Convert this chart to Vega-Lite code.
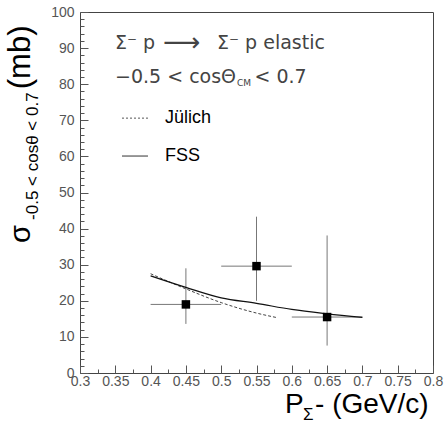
{
  "$schema": "https://vega.github.io/schema/vega-lite/v6.json",
  "width": 353,
  "height": 361,
  "autosize": {"type": "none"},
  "padding": {"left": 80, "top": 12, "right": 11, "bottom": 51},
  "background": "white",
  "config": {
    "view": {"stroke": "#444", "strokeWidth": 1},
    "axis": {"grid": false, "domain": false, "labelFont": "Liberation Sans", "labelFontSize": 14, "labelColor": "#555", "tickColor": "#555", "title": null, "labelOverlap": false, "labelFlush": false},
    "text": {"font": "Liberation Sans"}
  },
  "datasets": {
    "one": [{}],
    "pts": [
      {"p": 0.45, "plo": 0.4, "phi": 0.5, "s": 19.0, "slo": 13.6, "shi": 29.0},
      {"p": 0.55, "plo": 0.5, "phi": 0.6, "s": 29.6, "slo": 20.0, "shi": 43.3},
      {"p": 0.65, "plo": 0.6, "phi": 0.7, "s": 15.5, "slo": 7.6, "shi": 38.1}
    ],
    "fss": [
      {"p": 0.4, "s": 26.9}, {"p": 0.45, "s": 23.7}, {"p": 0.5, "s": 20.8}, {"p": 0.55, "s": 19.3},
      {"p": 0.6, "s": 17.6}, {"p": 0.65, "s": 16.4}, {"p": 0.7, "s": 15.4}
    ],
    "julich": [
      {"p": 0.4, "s": 27.5}, {"p": 0.45, "s": 23.3}, {"p": 0.5, "s": 19.5}, {"p": 0.55, "s": 16.6}, {"p": 0.58, "s": 15.3}
    ]
  },
  "layer": [
    {
      "data": {"name": "pts"},
      "mark": {"type": "rule", "color": "#777", "strokeWidth": 1},
      "encoding": {
        "x": {"field": "plo", "type": "quantitative", "scale": {"domain": [0.3, 0.8], "nice": false, "zero": false},
          "axis": {"orient": "bottom", "values": [0.3, 0.35, 0.4, 0.45, 0.5, 0.55, 0.6, 0.65, 0.7, 0.75, 0.8], "format": "~g", "tickSize": -8, "labelPadding": 9}},
        "x2": {"field": "phi"},
        "y": {"field": "s", "type": "quantitative", "scale": {"domain": [0, 100], "nice": false},
          "axis": {"orient": "left", "values": [0, 10, 20, 30, 40, 50, 60, 70, 80, 90, 100], "tickSize": -8, "labelPadding": 14}}
      }
    },
    {
      "data": {"name": "pts"},
      "mark": {"type": "rule", "color": "#777", "strokeWidth": 1},
      "encoding": {
        "x": {"field": "p", "type": "quantitative", "scale": {"domain": [0.3, 0.8], "nice": false, "zero": false},
          "axis": {"orient": "bottom", "values": [0.325, 0.375, 0.425, 0.475, 0.525, 0.575, 0.625, 0.675, 0.725, 0.775], "tickSize": -4, "labels": false}},
        "y": {"field": "slo", "type": "quantitative", "scale": {"domain": [0, 100], "nice": false},
          "axis": {"orient": "left", "values": [2, 4, 6, 8, 12, 14, 16, 18, 22, 24, 26, 28, 32, 34, 36, 38, 42, 44, 46, 48, 52, 54, 56, 58, 62, 64, 66, 68, 72, 74, 76, 78, 82, 84, 86, 88, 92, 94, 96, 98], "tickSize": -4, "labels": false}},
        "y2": {"field": "shi"}
      }
    },
    {
      "data": {"name": "julich"},
      "mark": {"type": "line", "color": "#444", "strokeWidth": 1, "strokeDash": [3, 2], "interpolate": "monotone"},
      "encoding": {
        "x": {"field": "p", "type": "quantitative", "scale": {"domain": [0.3, 0.8], "nice": false, "zero": false}, "axis": null},
        "y": {"field": "s", "type": "quantitative", "scale": {"domain": [0, 100], "nice": false}, "axis": null}
      }
    },
    {
      "data": {"name": "fss"},
      "mark": {"type": "line", "color": "#111", "strokeWidth": 1.2, "interpolate": "monotone"},
      "encoding": {
        "x": {"field": "p", "type": "quantitative", "scale": {"domain": [0.3, 0.8], "nice": false, "zero": false}, "axis": null},
        "y": {"field": "s", "type": "quantitative", "scale": {"domain": [0, 100], "nice": false}, "axis": null}
      }
    },
    {
      "data": {"name": "pts"},
      "mark": {"type": "point", "shape": "square", "filled": true, "color": "#000", "size": 72, "opacity": 1},
      "encoding": {
        "x": {"field": "p", "type": "quantitative", "scale": {"domain": [0.3, 0.8], "nice": false, "zero": false}, "axis": null},
        "y": {"field": "s", "type": "quantitative", "scale": {"domain": [0, 100], "nice": false}, "axis": null}
      }
    },
    {
      "data": {"name": "one"},
      "mark": {"type": "rule", "color": "#555", "strokeWidth": 1, "strokeDash": [2, 2]},
      "encoding": {
        "x": {"datum": 0.3595, "type": "quantitative", "axis": null},
        "x2": {"datum": 0.3963},
        "y": {"datum": 70.6, "type": "quantitative", "axis": null}
      }
    },
    {
      "data": {"name": "one"},
      "mark": {"type": "rule", "color": "#333", "strokeWidth": 1},
      "encoding": {
        "x": {"datum": 0.3595, "type": "quantitative", "axis": null},
        "x2": {"datum": 0.3963},
        "y": {"datum": 60.1, "type": "quantitative", "axis": null}
      }
    },
    {
      "data": {"name": "one"},
      "mark": {"type": "text", "text": "Jülich", "fontSize": 18, "color": "#000", "align": "left", "baseline": "middle"},
      "encoding": {"x": {"datum": 0.4204, "type": "quantitative", "axis": null}, "y": {"datum": 70.6, "type": "quantitative", "axis": null}}
    },
    {
      "data": {"name": "one"},
      "mark": {"type": "text", "text": "FSS", "fontSize": 18, "color": "#000", "align": "left", "baseline": "middle"},
      "encoding": {"x": {"datum": 0.4204, "type": "quantitative", "axis": null}, "y": {"datum": 60.1, "type": "quantitative", "axis": null}}
    },
    {
      "data": {"name": "one"},
      "mark": {"type": "text", "text": "Σ⁻ p", "font": "DejaVu Sans", "fontSize": 19, "color": "#444", "align": "left", "baseline": "alphabetic"},
      "encoding": {"x": {"datum": 0.3496, "type": "quantitative", "axis": null}, "y": {"datum": 89.75, "type": "quantitative", "axis": null}}
    },
    {
      "data": {"name": "one"},
      "mark": {"type": "text", "text": "⟶", "font": "DejaVu Sans", "fontSize": 26, "color": "#444", "align": "left", "baseline": "alphabetic"},
      "encoding": {"x": {"datum": 0.4176, "type": "quantitative", "axis": null}, "y": {"datum": 89.1, "type": "quantitative", "axis": null}}
    },
    {
      "data": {"name": "one"},
      "mark": {"type": "text", "text": "Σ⁻ p elastic", "font": "DejaVu Sans", "fontSize": 19, "color": "#444", "align": "left", "baseline": "alphabetic"},
      "encoding": {"x": {"datum": 0.4941, "type": "quantitative", "axis": null}, "y": {"datum": 89.75, "type": "quantitative", "axis": null}}
    },
    {
      "data": {"name": "one"},
      "mark": {"type": "text", "text": "−0.5 < cosΘ", "font": "DejaVu Sans", "fontSize": 19, "color": "#444", "align": "left", "baseline": "alphabetic"},
      "encoding": {"x": {"datum": 0.3496, "type": "quantitative", "axis": null}, "y": {"datum": 80.3, "type": "quantitative", "axis": null}}
    },
    {
      "data": {"name": "one"},
      "mark": {"type": "text", "text": "CM", "font": "DejaVu Sans", "fontSize": 9, "color": "#444", "align": "left", "baseline": "alphabetic"},
      "encoding": {"x": {"datum": 0.5224, "type": "quantitative", "axis": null}, "y": {"datum": 79.5, "type": "quantitative", "axis": null}}
    },
    {
      "data": {"name": "one"},
      "mark": {"type": "text", "text": "< 0.7", "font": "DejaVu Sans", "fontSize": 19, "color": "#444", "align": "left", "baseline": "alphabetic"},
      "encoding": {"x": {"datum": 0.5472, "type": "quantitative", "axis": null}, "y": {"datum": 80.3, "type": "quantitative", "axis": null}}
    },
    {
      "data": {"name": "one"},
      "mark": {"type": "text", "text": "P", "fontSize": 28, "color": "#000", "align": "left", "baseline": "alphabetic"},
      "encoding": {"x": {"datum": 0.5904, "type": "quantitative", "axis": null}, "y": {"datum": -11.08, "type": "quantitative", "axis": null}}
    },
    {
      "data": {"name": "one"},
      "mark": {"type": "text", "text": "Σ", "fontSize": 17, "color": "#000", "align": "left", "baseline": "alphabetic"},
      "encoding": {"x": {"datum": 0.6158, "type": "quantitative", "axis": null}, "y": {"datum": -13.0, "type": "quantitative", "axis": null}}
    },
    {
      "data": {"name": "one"},
      "mark": {"type": "text", "text": "- (GeV/c)", "fontSize": 28, "color": "#000", "align": "left", "baseline": "alphabetic"},
      "encoding": {"x": {"datum": 0.6329, "type": "quantitative", "axis": null}, "y": {"datum": -11.08, "type": "quantitative", "axis": null}}
    },
    {
      "data": {"name": "one"},
      "mark": {"type": "text", "text": "σ", "fontSize": 29, "color": "#000", "align": "left", "baseline": "alphabetic", "angle": 270},
      "encoding": {"x": {"datum": 0.2292, "type": "quantitative", "axis": null}, "y": {"datum": 36.0, "type": "quantitative", "axis": null}}
    },
    {
      "data": {"name": "one"},
      "mark": {"type": "text", "text": "-0.5 < cosθ < 0.7", "fontSize": 17, "color": "#000", "align": "left", "baseline": "alphabetic", "angle": 270},
      "encoding": {"x": {"datum": 0.2405, "type": "quantitative", "axis": null}, "y": {"datum": 42.4, "type": "quantitative", "axis": null}}
    },
    {
      "data": {"name": "one"},
      "mark": {"type": "text", "text": "(mb)", "fontSize": 31, "color": "#000", "align": "left", "baseline": "alphabetic", "angle": 270},
      "encoding": {"x": {"datum": 0.2292, "type": "quantitative", "axis": null}, "y": {"datum": 78.6, "type": "quantitative", "axis": null}}
    }
  ],
  "resolve": {"axis": {"x": "independent", "y": "independent"}}
}
